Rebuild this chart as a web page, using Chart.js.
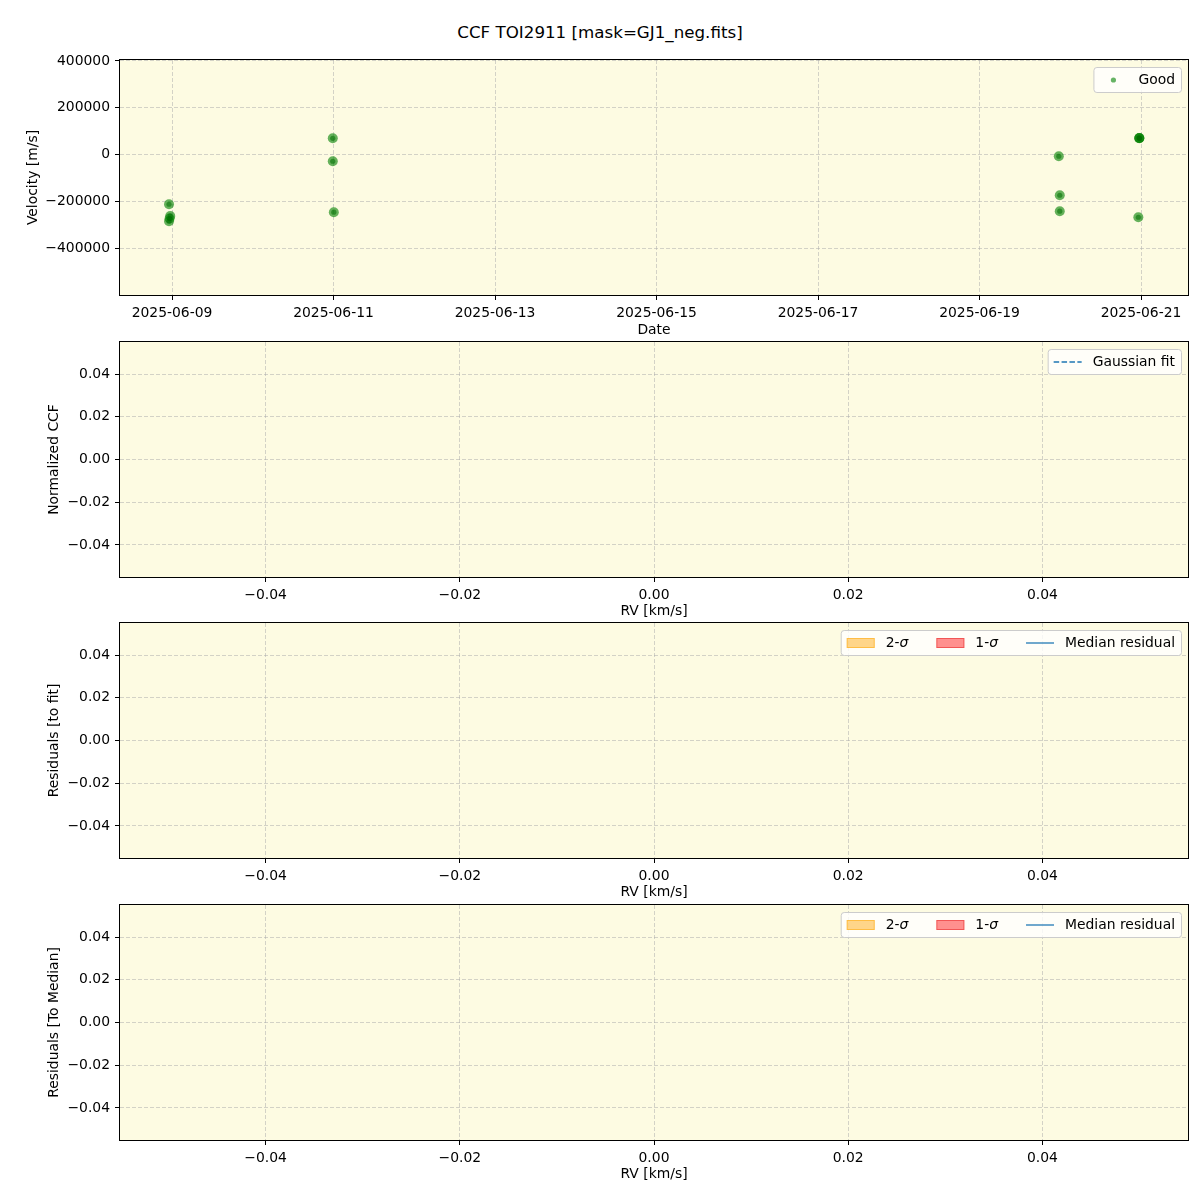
<!DOCTYPE html>
<html>
<head>
<meta charset="utf-8">
<script src="https://cdn.jsdelivr.net/npm/chart.js@4.4.1/dist/chart.umd.min.js"></script>
<style>
  body { margin: 0; background: #fff; }
  #wrap { position: relative; width: 1200px; height: 1200px; }
  .panel { position: absolute; left: 0; width: 1200px; height: 290px; }
  #title { position: absolute; top: 22px; left: 0; width: 1200px; text-align: center;
           font: 16.7px 'DejaVu Sans'; line-height: 20px; color: #000; }
</style>
</head>
<body>
<div id="wrap">
  <div id="title">CCF TOI2911 [mask=GJ1_neg.fits]</div>
  <div class="panel" style="top:50px"><canvas id="velChart" width="1200" height="290"></canvas></div>
  <div class="panel" style="top:332px"><canvas id="ccfChart" width="1200" height="290"></canvas></div>
  <div class="panel" style="top:613px"><canvas id="resFitChart" width="1200" height="290"></canvas></div>
  <div class="panel" style="top:895px"><canvas id="resMedChart" width="1200" height="290"></canvas></div>
</div>
<script>
// observation times, as day of June 2025 (fractional)
const obsDays = [8.963, 8.978, 8.970, 8.963, 10.991, 10.991, 11.004, 19.982, 19.994, 19.994, 20.979, 20.979, 20.979, 20.967];
// measured velocities [m/s]
const obsVelocity = [-213000, -263000, -274000, -285500, 69000, -29000, -247000, -7700, -174400, -242700, 69500, 70000, 70500, -268400];

const dateTicks = [9, 11, 13, 15, 17, 19, 21];
const dateTickLabels = ['2025-06-09', '2025-06-11', '2025-06-13', '2025-06-15', '2025-06-17', '2025-06-19', '2025-06-21'];
const velocityTicks = [-400000, -200000, 0, 200000, 400000];
const rvTicks = [-0.04, -0.02, 0, 0.02, 0.04];

// the CCF / residual panels have no data
const gaussFit = [];
const medianResidual = [];
const band1Sigma = [];
const band2Sigma = [];

const FONT = 'DejaVu Sans';
const FS = 13.9;
const BG = '#fdfbe2';
const GRID = 'rgba(170,170,170,0.5)';

Chart.defaults.color = '#000';
Chart.defaults.font.family = FONT;
Chart.defaults.font.size = FS;

const minus = s => String(s).replace('-', '\u2212');

// plot background + black frame
const frame = {
  id: 'frame',
  beforeDraw(chart) {
    const a = chart.chartArea, ctx = chart.ctx;
    ctx.save();
    ctx.fillStyle = BG;
    ctx.fillRect(a.left, a.top, a.right - a.left, a.bottom - a.top);
    ctx.restore();
  },
  afterDraw(chart) {
    const a = chart.chartArea, ctx = chart.ctx;
    ctx.save();
    ctx.strokeStyle = '#000';
    ctx.lineWidth = 1;
    ctx.strokeRect(Math.round(a.left) - 0.5, Math.round(a.top) - 0.5,
                   Math.round(a.right - a.left) + 1, Math.round(a.bottom - a.top) + 1);
    ctx.restore();
  }
};

// matplotlib style legend drawn inside the plot, upper right
const insideLegend = {
  id: 'insideLegend',
  afterDraw(chart) {
    const items = chart.data.datasets.filter(d => d.legendKind);
    if (!items.length) return;
    const ctx = chart.ctx, a = chart.chartArea;
    const handleW = 28, textPad = 11, colGap = 28, pad = 6, h = 25;
    ctx.save();
    const parts = lbl => lbl.split(/(σ)/).filter(p => p);
    const fontFor = p => (p === 'σ' ? 'italic ' : '') + FS + 'px ' + FONT;
    const widthOf = lbl => parts(lbl).reduce((s, p) => { ctx.font = fontFor(p); return s + ctx.measureText(p).width; }, 0);
    const widths = items.map(d => widthOf(d.label));
    const w = pad * 2 + widths.reduce((s, tw) => s + handleW + textPad + tw, 0) + colGap * (items.length - 1);
    const x0 = a.right - 7 - w, y0 = a.top + 7;
    ctx.beginPath();
    ctx.roundRect(x0 + 0.5, y0 + 0.5, w, h, 3);
    ctx.fillStyle = 'rgba(255,255,255,0.8)';
    ctx.fill();
    ctx.strokeStyle = '#cccccc';
    ctx.lineWidth = 1;
    ctx.stroke();
    let x = x0 + pad;
    const yc = y0 + h / 2 + 0.5;
    items.forEach((d, i) => {
      if (d.legendKind === 'dot') {
        ctx.beginPath();
        ctx.arc(x + handleW / 2, yc, 2.6, 0, Math.PI * 2);
        ctx.fillStyle = d.backgroundColor;
        ctx.fill();
      } else if (d.legendKind === 'patch') {
        ctx.fillStyle = d.backgroundColor;
        ctx.fillRect(x, yc - 5, handleW, 10);
        ctx.strokeStyle = d.borderColor;
        ctx.lineWidth = 1;
        ctx.strokeRect(x + 0.5, yc - 4.5, handleW - 1, 9);
      } else {
        ctx.beginPath();
        ctx.setLineDash(d.borderDash || []);
        ctx.moveTo(x, yc);
        ctx.lineTo(x + handleW, yc);
        ctx.strokeStyle = d.borderColor;
        ctx.lineWidth = 1.5;
        ctx.stroke();
        ctx.setLineDash([]);
      }
      let tx = x + handleW + textPad;
      ctx.fillStyle = '#000';
      ctx.textBaseline = 'middle';
      parts(d.label).forEach(p => {
        ctx.font = fontFor(p);
        ctx.fillText(p, tx, yc);
        tx += ctx.measureText(p).width;
      });
      x += handleW + textPad + widths[i] + colGap;
    });
    ctx.restore();
  }
};

function axis(opts) {
  return {
    type: 'linear',
    min: opts.min,
    max: opts.max,
    afterBuildTicks: s => { s.ticks = opts.ticks.map(v => ({ value: v })); },
    afterFit: s => {
      if (opts.size.w) s.width = opts.size.w; else s.height = opts.size.h;
      s.paddingTop = 0; s.paddingBottom = 0; s.paddingLeft = 0; s.paddingRight = 0;
    },
    grid: { color: GRID, lineWidth: 1, tickColor: '#000', tickLength: 5, tickWidth: 1 },
    border: { display: false, dash: [4, 2] },
    ticks: { padding: 5, font: { size: FS }, callback: opts.fmt, maxRotation: 0 },
    title: { display: true, text: opts.title, font: { size: FS }, padding: opts.titlePad }
  };
}

function makePanel(id, datasets, xOpts, yOpts) {
  return new Chart(document.getElementById(id), {
    type: 'scatter',
    data: { datasets: datasets },
    options: {
      responsive: false,
      animation: false,
      layout: { padding: { left: 0, right: 12, top: 10, bottom: 0 } },
      plugins: { legend: { display: false }, tooltip: { enabled: false } },
      scales: { x: axis(xOpts), y: axis(yOpts) }
    },
    plugins: [frame, insideLegend]
  });
}

const rvAxis = {
  min: -0.055, max: 0.055, ticks: rvTicks, size: { h: 45 },
  fmt: v => minus(v.toFixed(2)), title: 'RV [km/s]', titlePad: { top: 0, bottom: 2.5 }
};
const yPad = { top: 46, bottom: 0 };

// panel 1: velocities over time
const velPoints = obsDays.map((d, i) => ({ x: d, y: obsVelocity[i] }));
makePanel('velChart', [
  { label: 'Good', legendKind: 'dot', data: velPoints, pointRadius: 2.6, pointBorderWidth: 0,
    backgroundColor: 'rgba(0,128,0,0.6)', pointBackgroundColor: 'rgba(0,110,0,0.55)' },
  { label: '', data: velPoints, pointRadius: 5, pointBorderWidth: 0,
    pointBackgroundColor: 'rgba(0,128,0,0.6)' }
], {
  min: 8.356, max: 21.582, ticks: dateTicks, size: { h: 45 },
  fmt: v => dateTickLabels[dateTicks.indexOf(v)] || '', title: 'Date', titlePad: { top: 0, bottom: 1.7 }
}, {
  min: -601000, max: 404000, ticks: velocityTicks, size: { w: 120 },
  fmt: v => minus(v), title: 'Velocity [m/s]', titlePad: { top: 24.7, bottom: 0 }
});

// panel 2: CCF with gaussian fit
makePanel('ccfChart', [
  { type: 'line', label: 'Gaussian fit', legendKind: 'line', data: gaussFit,
    borderColor: '#1f77b4', borderDash: [5.5, 2.4], borderWidth: 1.5, pointRadius: 0 }
], rvAxis, {
  min: -0.055, max: 0.055, ticks: rvTicks, size: { w: 120 },
  fmt: v => minus(v.toFixed(2)), title: 'Normalized CCF', titlePad: yPad
});

function residualSets() {
  return [
    { type: 'line', label: '2-σ', legendKind: 'patch', data: band2Sigma,
      backgroundColor: 'rgba(255,165,0,0.45)', borderColor: 'rgba(255,165,0,0.5)', pointRadius: 0 },
    { type: 'line', label: '1-σ', legendKind: 'patch', data: band1Sigma,
      backgroundColor: 'rgba(255,0,0,0.43)', borderColor: 'rgba(220,0,0,0.4)', pointRadius: 0 },
    { type: 'line', label: 'Median residual', legendKind: 'line', data: medianResidual,
      borderColor: 'rgba(31,119,180,0.85)', borderWidth: 1.5, pointRadius: 0 }
  ];
}

makePanel('resFitChart', residualSets(), rvAxis, {
  min: -0.055, max: 0.055, ticks: rvTicks, size: { w: 120 },
  fmt: v => minus(v.toFixed(2)), title: 'Residuals [to fit]', titlePad: yPad
});

makePanel('resMedChart', residualSets(), rvAxis, {
  min: -0.055, max: 0.055, ticks: rvTicks, size: { w: 120 },
  fmt: v => minus(v.toFixed(2)), title: 'Residuals [To Median]', titlePad: yPad
});
</script>
</body>
</html>
